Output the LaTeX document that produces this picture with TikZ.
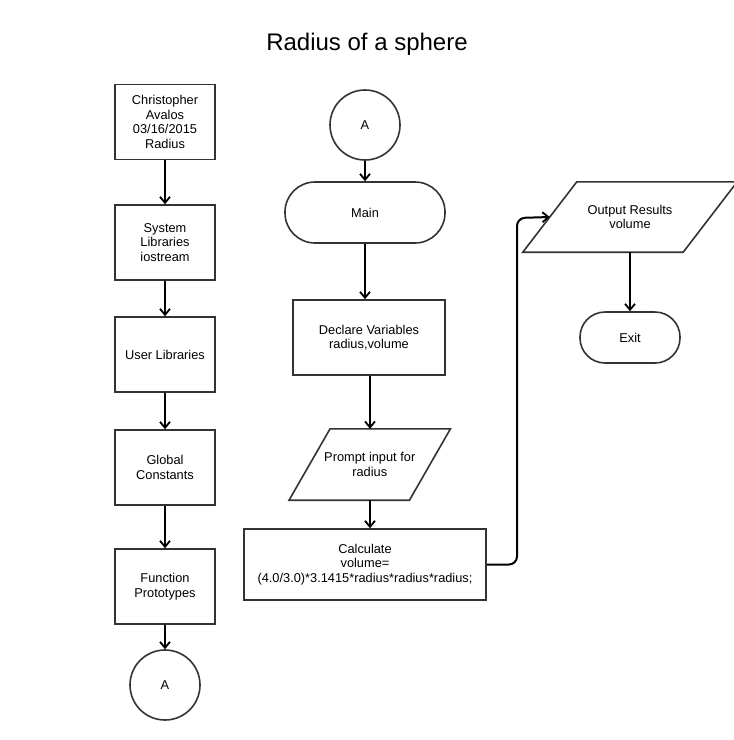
\documentclass[tikz,border=0pt]{standalone}
\usepackage{fontspec}
\setmainfont{Liberation Sans}
\usetikzlibrary{arrows.meta,calc}
\begin{document}
\begin{tikzpicture}[x=1pt,y=-1pt,
  every node/.style={font=\fontsize{12.8}{14.5}\selectfont, align=center, inner sep=0pt},
  shapeline/.style={draw=black!80, line width=1.6pt},
  procbox/.style={shapeline, rectangle, minimum width=#1},
  procbox/.default=100pt,
  termbox/.style={shapeline, rectangle},
  conncirc/.style={shapeline, circle, minimum size=70pt},
  flowarrow/.style={draw=black, line width=2pt, -{Straight Barb[length=6pt,width=10pt,line width=1.8pt]}},
  paratext/.style={rectangle}
]
\useasboundingbox (0,0) rectangle (734,740);
% title
\node[font=\fontsize{24}{28}\selectfont] (title) at (367,44) {Radius of a sphere};

% left column
\node[procbox, minimum height=75pt] (b1) at (165,122) {Christopher\\Avalos\\03/16/2015\\Radius};
\node[procbox, minimum height=75pt] (b2) at (165,242.5) {System\\Libraries\\iostream};
\node[procbox, minimum height=75pt] (b3) at (165,354.5) {User Libraries};
\node[procbox, minimum height=75pt] (b4) at (165,467.5) {Global\\Constants};
\node[procbox, minimum height=75pt] (b5) at (165,586.5) {Function\\Prototypes};
\node[conncirc] (a1) at (165,685) {A};

\draw[flowarrow] (b1) -- (b2);
\draw[flowarrow] (b2) -- (b3);
\draw[flowarrow] (b3) -- (b4);
\draw[flowarrow] (b4) -- (b5);
\draw[flowarrow] (b5) -- (a1);

% middle column
\node[conncirc] (a2) at (365,125) {A};
\node[termbox, minimum width=160pt, minimum height=61pt, rounded corners=30pt] (main) at (365,212.5) {Main};
\node[procbox=152pt, minimum height=75pt] (decl) at (369,337.5) {Declare Variables\\radius,volume};
\node[paratext, minimum width=161pt, minimum height=71pt] (prompt) at (369.75,464.5) {Prompt input for\\radius};
\draw[shapeline, line join=miter] ([xshift=41pt]prompt.north west) -- (prompt.north east) -- ([xshift=-41pt]prompt.south east) -- (prompt.south west) -- cycle;
\node[procbox=242pt, minimum height=71pt] (calc) at (365,564.5) {Calculate\\volume=\\(4.0/3.0)*3.1415*radius*radius*radius;};

\draw[flowarrow] (a2) -- (main);
\draw[flowarrow] (main.south) -- (main.south |- decl.north);
\draw[flowarrow] (decl.south -| 370,0) -- (prompt.north -| 370,0);
\draw[flowarrow] (prompt.south -| 370,0) -- (calc.north -| 370,0);

% right column
\node[paratext, minimum width=214pt, minimum height=70pt] (out) at (630,217) {Output Results\\volume};
\draw[shapeline, line join=miter] ([xshift=54pt]out.north west) -- (out.north east) -- ([xshift=-54pt]out.south east) -- (out.south west) -- cycle;
\coordinate (outL) at ($(out.west)+(27pt,0pt)$);
\node[termbox, minimum width=100pt, minimum height=51pt, rounded corners=25pt] (exit) at (630,337.5) {Exit};

\draw[flowarrow] (out.south) -- (exit.north);
\coordinate (bend) at (517,218);
\draw[flowarrow, rounded corners=8pt] (calc.east) -| (bend) -- (outL);
\end{tikzpicture}
\end{document}
